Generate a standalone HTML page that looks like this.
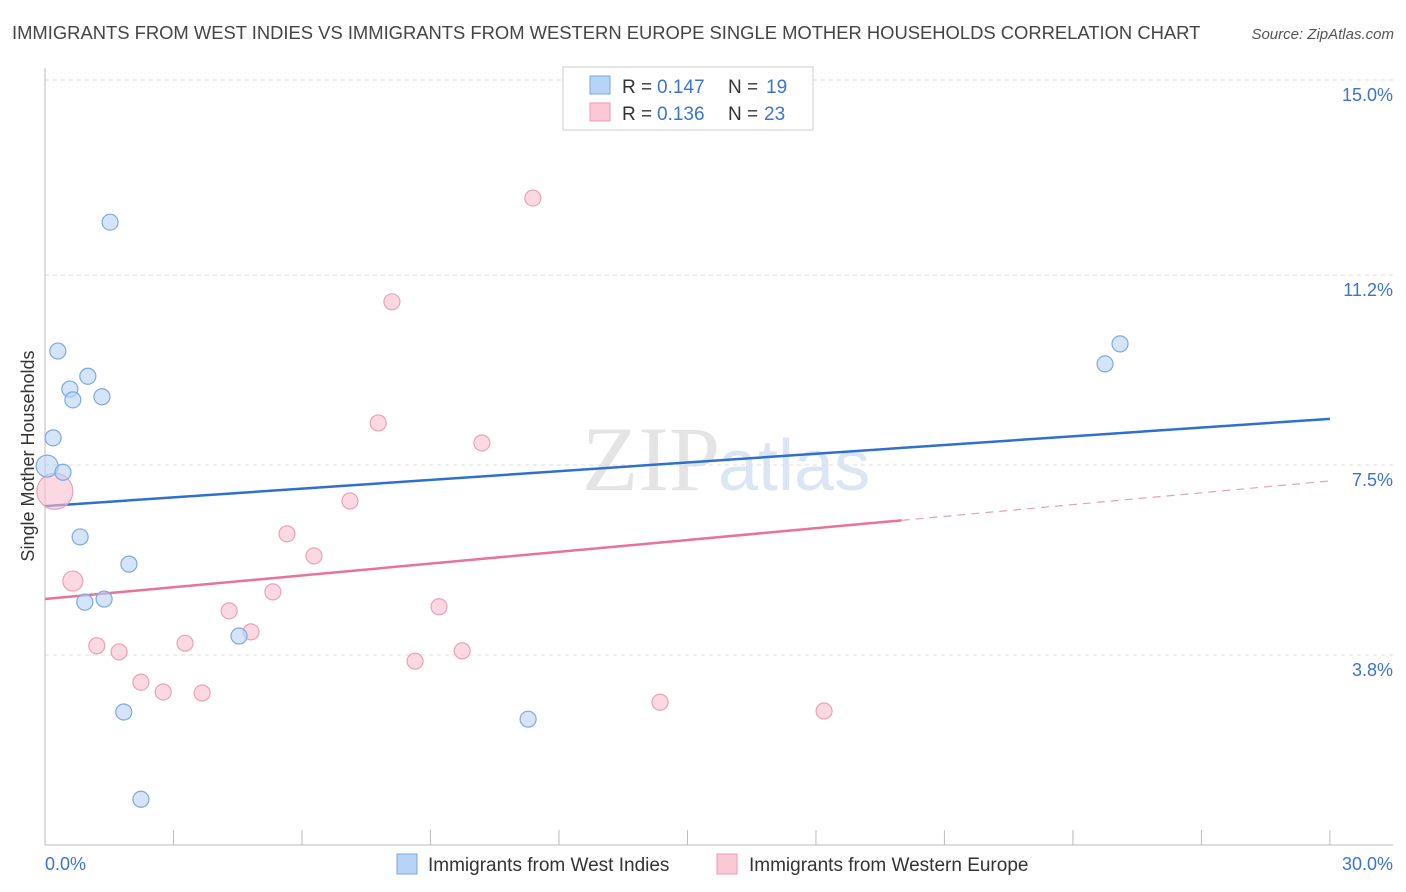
<!DOCTYPE html>
<html><head><meta charset="utf-8"><style>
body{margin:0;background:#fff;font-family:"Liberation Sans",sans-serif;}
svg{display:block}
</style></head><body>
<svg width="1406" height="892" id="chart">
<text x="12" y="39" font-size="18.4" fill="#444">IMMIGRANTS FROM WEST INDIES VS IMMIGRANTS FROM WESTERN EUROPE SINGLE MOTHER HOUSEHOLDS CORRELATION CHART</text>
<text x="1394" y="39" font-size="15" fill="#555" font-style="italic" text-anchor="end">Source: ZipAtlas.com</text>
<text x="720" y="490" font-size="92" fill="#e4e4e4" text-anchor="end" font-family="Liberation Serif">ZIP</text>
<text x="718" y="490" font-size="72" fill="#dbe6f5">atlas</text>
<g id="grid"></g>
<g id="axes"></g>
<g id="trends"></g>
<g id="points"></g>
<text x="34" y="456" font-size="18" fill="#333" text-anchor="middle" transform="rotate(-90 34 456)">Single Mother Households</text>
<g>
<rect x="563" y="67" width="250" height="63" fill="#fff" stroke="#ccc"/>
<rect x="590" y="76" width="20" height="18" fill="#b7d4f7" stroke="#7aa7e0"/>
<text x="622" y="93" font-size="19" fill="#333">R =</text>
<text x="657" y="93" font-size="19" fill="#3a74d0">0.147</text>
<text x="728" y="93" font-size="19" fill="#333">N =</text>
<text x="766" y="93" font-size="19" fill="#3a74d0">19</text>
<rect x="590" y="103" width="20" height="18" fill="#fbc9d6" stroke="#ec9ab2"/>
<text x="622" y="120" font-size="19" fill="#333">R =</text>
<text x="657" y="120" font-size="19" fill="#3a74d0">0.136</text>
<text x="728" y="120" font-size="19" fill="#333">N =</text>
<text x="764" y="120" font-size="19" fill="#3a74d0">23</text>
</g>
<g>
<rect x="397" y="854" width="20" height="20" fill="#b7d4f7" stroke="#7aa7e0"/>
<text x="428" y="871" font-size="19" fill="#333">Immigrants from West Indies</text>
<rect x="717" y="854" width="20" height="20" fill="#fbc9d6" stroke="#ec9ab2"/>
<text x="749" y="871" font-size="19" fill="#333">Immigrants from Western Europe</text>
</g>
</svg>
<script>
const blueX=[1.52,0.30,0.58,1.00,0.65,1.33,0.19,0.05,0.42,0.82,1.96,0.93,1.38,4.53,1.84,2.24,11.28,24.75,25.10];
const blueY=[12.23,9.72,8.98,9.23,8.77,8.83,8.03,7.48,7.36,6.10,5.57,4.83,4.89,4.17,2.69,0.99,2.55,9.47,9.86];
const blueR=[8,8,8,8,8,8,8,11,8,8,8,8,8,8,8,8,8,8,8];
const pinkX=[11.39,8.10,7.78,10.20,7.12,5.65,6.28,5.32,9.20,4.30,4.81,3.27,1.21,1.73,9.74,8.64,2.24,2.76,3.67,14.36,18.19,0.65,0.23];
const pinkY=[12.70,10.68,8.32,7.93,6.80,6.16,5.73,5.03,4.74,4.66,4.25,4.03,3.98,3.86,3.88,3.68,3.27,3.08,3.06,2.88,2.71,5.24,6.99];
const pinkR=[8,8,8,8,8,8,8,8,8,8,8,8,8,8,8,8,8,8,8,8,8,10,18];
const yTicks=[15.0,11.2,7.5,3.8];
const yTickLabels=["15.0%","11.2%","7.5%","3.8%"];
const xTickLabels=["0.0%","30.0%"];
const blueTrend=[6.70,8.40];
const pinkTrend=[4.89,7.19];
const pinkSolidEnd=20.0;
const NS="http://www.w3.org/2000/svg";
const X=v=>45+v*42.83, Y=v=>80+(15-v)*51.34;
function mk(t,a,p){const e=document.createElementNS(NS,t);for(const k in a)e.setAttribute(k,a[k]);p.appendChild(e);return e;}
const grid=document.getElementById('grid'),axes=document.getElementById('axes'),tr=document.getElementById('trends'),pts=document.getElementById('points');
yTicks.forEach((v,i)=>{
 const l=mk('line',{x1:45,x2:1393,y1:Y(v),y2:Y(v),stroke:'#ddd','stroke-dasharray':'4,4'},grid);
 
 
 const t=mk('text',{x:1393,y:Y(v)+21,'font-size':18,fill:'#3a74d0','text-anchor':'end'},axes);t.textContent=yTickLabels[i];
 
 
});
let a=mk('line',{x1:45,x2:45,y1:68,y2:845,stroke:'#bbb'},axes);


a=mk('line',{x1:45,x2:1393,y1:845,y2:845,stroke:'#bbb'},axes);


for(let i=0;i<=10;i++){const t=mk('line',{x1:X(i*3),x2:X(i*3),y1:830,y2:845,stroke:'#bbb'},axes);
 
 }
[[0,'start',45],[30,'end',1393]].forEach((d,i)=>{const t=mk('text',{x:d[2],y:870,'font-size':18,fill:'#3a74d0','text-anchor':d[1]},axes);t.textContent=xTickLabels[i];
 
 });
let l=mk('line',{x1:X(0),y1:Y(blueTrend[0]),x2:X(30),y2:Y(blueTrend[1]),stroke:'#2f6fd0','stroke-width':2.5},tr);


const pe=pinkTrend[0]+(pinkTrend[1]-pinkTrend[0])*pinkSolidEnd/30;
l=mk('line',{x1:X(0),y1:Y(pinkTrend[0]),x2:X(pinkSolidEnd),y2:Y(pe),stroke:'#e8729a','stroke-width':2.5},tr);


l=mk('line',{x1:X(pinkSolidEnd),y1:Y(pe),x2:X(30),y2:Y(pinkTrend[1]),stroke:'#e8a0b8','stroke-width':1.2,'stroke-dasharray':'8,6'},tr);


pinkX.forEach((v,i)=>{const c=mk('circle',{cx:X(v),cy:Y(pinkY[i]),r:pinkR[i],fill:'rgba(248,190,206,0.6)',stroke:'#eaa2b8','stroke-width':1.2},pts);
 
 });
blueX.forEach((v,i)=>{const c=mk('circle',{cx:X(v),cy:Y(blueY[i]),r:blueR[i],fill:'rgba(183,212,247,0.6)',stroke:'#7ea9de','stroke-width':1.2},pts);
 
 });
</script>
</body></html>
